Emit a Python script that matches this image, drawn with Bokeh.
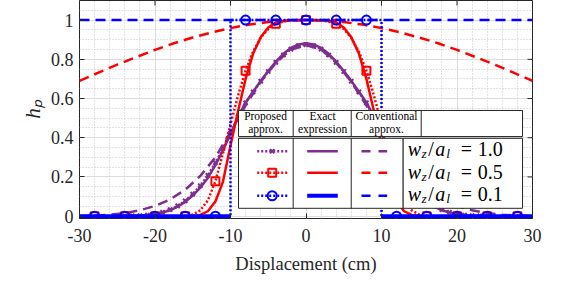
import numpy as np
from bokeh.plotting import figure
from bokeh.models import FixedTicker, CustomJSTickFormatter, Range1d
from bokeh.core.properties import value
from bokeh.embed import file_html
from bokeh.resources import INLINE

# ---------------- data ----------------
x_fine = list(range(-30, 31))
purple_exact = [0, 0, 0, 0, 0, 0, 0,
                .001, .002, .005, .010, .018, .030, .048, .073, .105, .145, .195, .260,
                .335, .420, .505, .580, .635, .690, .740, .788, .828, .858, .876,
                .882,
                .876, .858, .828, .788, .740, .690, .635, .580, .505, .420, .335,
                .260, .195, .145, .105, .073, .048, .030, .018, .010, .005, .002, .001,
                0, 0, 0, 0, 0, 0, 0]
purple_proposed = [0, 0, 0, 0, 0, 0, 0,
                   .001, .003, .006, .011, .020, .033, .052, .078, .112, .155, .208, .272,
                   .345, .425, .505, .578, .634, .688, .738, .784, .822, .852, .870,
                   .875,
                   .870, .852, .822, .784, .738, .688, .634, .578, .505, .425, .345,
                   .272, .208, .155, .112, .078, .052, .033, .020, .011, .006, .003, .001,
                   0, 0, 0, 0, 0, 0, 0]
x_conv_purple = list(range(-30, 31, 2))
purple_conventional = [.001, .003, .007, .015, .030, .052, .085, .135, .205, .300, .430,
                       .565, .685, .782, .850, .872, .850, .782, .685, .565, .430, .300,
                       .205, .135, .085, .052, .030, .015, .007, .003, .001]
red_exact = [0, 0, 0, 0, 0, 0, 0, 0, 0, 0, 0, 0, 0, 0, 0, 0,
             .006, .025, .075, .175, .360, .535, .700, .830, .912, .962, .988, .996, .999, 1,
             1,
             1, .999, .996, .988, .962, .912, .830, .700, .535, .360, .175, .075, .025, .006,
             0, 0, 0, 0, 0, 0, 0, 0, 0, 0, 0, 0, 0, 0, 0, 0]
red_proposed = [0, 0, 0, 0, 0, 0, 0, 0, 0, 0, 0, 0, 0, 0, 0,
                .008, .030, .080, .178, .320, .470, .615, .742, .840, .910, .955, .982, .993, .998, 1,
                1,
                1, .998, .993, .982, .955, .910, .840, .742, .615, .470, .320, .178, .080, .030, .008,
                0, 0, 0, 0, 0, 0, 0, 0, 0, 0, 0, 0, 0, 0, 0]
x_conv_red = [-30, -27.5, -25, -22.5, -20, -17.5, -15, -12.5, -10, -7.5, -5, -2.5, 0,
              2.5, 5, 7.5, 10, 12.5, 15, 17.5, 20, 22.5, 25, 27.5, 30]
red_conventional = [.690, .732, .773, .811, .848, .882, .911, .937, .959, .977, .990, .997, 1.0,
                    .997, .990, .977, .959, .937, .911, .882, .848, .811, .773, .732, .690]
blue_exact_x = [-30, -10, np.nan, 10, 30]
blue_exact_y = [0, 0, np.nan, 0, 0]
blue_proposed_x = [-30, -10, -10, 10, 10, 30]
blue_proposed_y = [0, 0, 1, 1, 0, 0]
blue_conventional_x = [-30, 30]
blue_conventional_y = [1, 1]
marker_x = list(range(-28, 29, 4))
blue_marker_y = [0, 0, 0, 0, 0, 1, 1, 1, 1, 1, 0, 0, 0, 0, 0]
x_ticks = [-30, -20, -10, 0, 10, 20, 30]
y_ticks = [0, 0.2, 0.4, 0.6, 0.8, 1.0]
header_line1 = ["Proposed", "Exact", "Conventional"]
header_line2 = ["approx.", "expression", "approx."]
ratio_values = ["1.0", "0.5", "0.1"]

# ---------------- style ----------------
PURPLE, RED, BLUE = "#7E2F8E", "#FF0000", "#0000FF"
AX = "#262626"
SERIF = "Liberation Serif"
DOT, DASH = "2 2", "10 6"
X0, X1, Y0, Y1 = -30, 30, -0.012, 1.1

p = figure(width=554, height=276, x_range=Range1d(X0, X1), y_range=Range1d(Y0, Y1),
           output_backend="svg", toolbar_location=None,
           min_border_left=79, min_border_right=22, min_border_top=0, min_border_bottom=58)
p.background_fill_color = "white"
p.outline_line_color = AX
p.outline_line_width = 1

fmt = CustomJSTickFormatter(code="return (Math.round(tick*10)/10).toString();")
p.xaxis.ticker = FixedTicker(ticks=x_ticks, minor_ticks=list(np.arange(-30, 31, 2)))
p.yaxis.ticker = FixedTicker(ticks=y_ticks, minor_ticks=list(np.round(np.arange(0, 1.101, 0.05), 2)))
for ax in (p.xaxis[0], p.yaxis[0]):
    ax.formatter = fmt
    ax.axis_line_color = None
    ax.major_tick_in = 5
    ax.major_tick_out = 0
    ax.minor_tick_in = 0
    ax.minor_tick_out = 0
    ax.major_tick_line_color = AX
    ax.major_label_text_font = SERIF
    ax.major_label_text_font_size = "18px"
    ax.major_label_text_color = AX
    ax.axis_label_text_font = SERIF
    ax.axis_label_text_color = AX
p.xaxis[0].axis_label = "Displacement (cm)"
p.xaxis[0].axis_label_text_font_size = "18.5px"
p.xaxis[0].axis_label_text_font_style = "normal"
p.xaxis[0].major_label_standoff = 10
p.xaxis[0].axis_label_standoff = 9
p.yaxis[0].axis_label = "hₚ"
p.yaxis[0].axis_label_text_font_size = "21px"
p.yaxis[0].axis_label_text_font_style = "italic"
p.yaxis[0].major_label_standoff = 6
p.yaxis[0].axis_label_standoff = 3

for g in (p.xgrid[0], p.ygrid[0]):
    g.grid_line_color = "#dcdcdc"
    g.grid_line_width = 1
    g.minor_grid_line_color = "#c4c4c4"
    g.minor_grid_line_dash = "1 2"
    g.minor_grid_line_width = 1

# inward ticks on the top and right edges of the box (half of each dash is clipped by the frame)
p.scatter(x_ticks, [Y1] * len(x_ticks), marker="dash", angle=np.pi / 2, size=10, line_color=AX, line_width=1)
p.scatter([X1] * len(y_ticks), y_ticks, marker="dash", size=10, line_color=AX, line_width=1)

# ---------------- curves ----------------
# purple: w_z/a_l = 1.0
p.line(x_conv_purple, purple_conventional, color=PURPLE, line_width=2.5, line_dash=DASH)
p.line(x_fine, purple_exact, color=PURPLE, line_width=2.5)
p.line(x_fine, purple_proposed, color=PURPLE, line_width=2.5, line_dash=DOT)
pm_x = [x for x in x_fine if abs(x) <= 24]
pm_y = [purple_proposed[x_fine.index(x)] for x in pm_x]
p.scatter(pm_x, pm_y, marker="x", size=6, line_color=PURPLE, line_width=2)

# red: w_z/a_l = 0.5
p.line(x_conv_red, red_conventional, color=RED, line_width=2.5, line_dash=DASH)
p.line(x_fine, red_exact, color=RED, line_width=2.5)
p.line(x_fine, red_proposed, color=RED, line_width=2.5, line_dash=DOT)
rm_y = [red_proposed[x_fine.index(x)] for x in marker_x]
p.scatter(marker_x, rm_y, marker="square", size=8, line_color=RED, line_width=2, fill_color=None)

# blue: w_z/a_l = 0.1
p.line(blue_conventional_x, blue_conventional_y, color=BLUE, line_width=2.5, line_dash=DASH)
p.line(np.array(blue_exact_x, dtype=float), np.array(blue_exact_y, dtype=float), color=BLUE, line_width=4)
p.line(blue_proposed_x, blue_proposed_y, color=BLUE, line_width=2.5, line_dash=DOT)
p.scatter(marker_x, blue_marker_y, marker="circle", size=9, line_color=BLUE, line_width=2, fill_color=None)

# ---------------- table-style legend (data coordinates) ----------------
L, R = -8.94, 28.68
HT, HB = 0.539, 0.406
BT, BB = 0.397, 0.040
C1, C2, C3, CL = -1.70, 5.99, 15.26, 12.87
p.quad(left=[L], right=[R], top=[HT], bottom=[HB], fill_color="white", line_color=AX, line_width=1)
p.quad(left=[L, CL], right=[CL, R], top=[BT, BT], bottom=[BB, BB], fill_color="white", line_color=AX, line_width=1)
p.segment(x0=[C1, C2, C3], y0=[HB] * 3, x1=[C1, C2, C3], y1=[HT] * 3, line_color=AX, line_width=1)
p.segment(x0=[C1, C2], y0=[BB] * 2, x1=[C1, C2], y1=[BT] * 2, line_color=AX, line_width=1)

hx = [-5.36, 2.19, 10.66]
p.text(x=hx, y=[0.510] * 3, text=header_line1, text_font=value(SERIF), text_font_size=value("11.5px"),
       text_align="center", text_baseline="middle", text_color="black")
p.text(x=hx, y=[0.444] * 3, text=header_line2, text_font=value(SERIF), text_font_size=value("11.5px"),
       text_align="center", text_baseline="middle", text_color="black")

row_y = [0.331, 0.221, 0.104]
cols = [PURPLE, RED, BLUE]
p.segment(x0=[-6.46] * 3, y0=row_y, x1=[-2.28] * 3, y1=row_y, line_color=cols, line_width=2.5, line_dash=DOT)
p.segment(x0=[0.16] * 3, y0=row_y, x1=[4.21] * 3, y1=row_y, line_color=cols, line_width=[2.5, 2.5, 4])
p.segment(x0=[7.35] * 3, y0=row_y, x1=[10.75] * 3, y1=row_y, line_color=cols, line_width=2.5, line_dash="9 8")
p.scatter([-4.48], [row_y[0]], marker="x", size=6, line_color=PURPLE, line_width=2)
p.scatter([-4.48], [row_y[1]], marker="square", size=8, line_color=RED, line_width=2, fill_color=None)
p.scatter([-4.48], [row_y[2]], marker="circle", size=9, line_color=BLUE, line_width=2, fill_color=None)

base_y = [0.340, 0.225, 0.111]
lx = 13.48
big, small = "20px", "13.5px"
for by, val in zip(base_y, ratio_values):
    p.text(x=[lx, lx], y=[by, by], text=["w", "a"], x_offset=[0, 27.5], text_font=value(SERIF),
           text_font_style="italic", text_font_size=value(big), text_baseline="alphabetic", text_color="black")
    p.text(x=[lx, lx], y=[by, by], text=["z", "l"], x_offset=[13.8, 38.5], y_offset=[4, 4],
           text_font=value(SERIF), text_font_style="italic", text_font_size=value(small),
           text_baseline="alphabetic", text_color="black")
    p.text(x=[lx, lx, lx], y=[by] * 3, text=["/", "=", val], x_offset=[20.5, 53, 70],
           text_font=value(SERIF), text_font_size=value(big), text_baseline="alphabetic", text_color="black")

open("out.html", "w").write(file_html(p, INLINE))
